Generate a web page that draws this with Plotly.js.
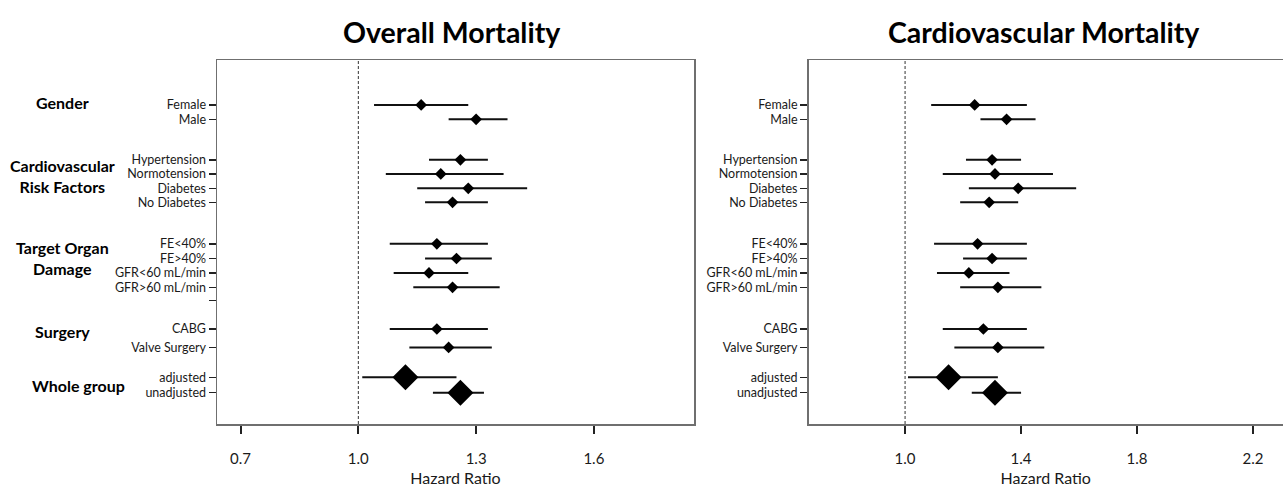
<!DOCTYPE html>
<html><head><meta charset="utf-8">
<script src="https://cdn.plot.ly/plotly-3.0.1.min.js"></script>
<style>html,body{margin:0;padding:0;background:#fff}</style>
</head><body><div id="chart" style="width:1283px;height:487px"></div>
<script>
// ---------- data ----------
const subgroups = ['Female','Male','Hypertension','Normotension','Diabetes','No Diabetes','FE<40%','FE>40%','GFR<60 mL/min','GFR>60 mL/min','CABG','Valve Surgery','adjusted','unadjusted'];
const groupNames = ['Gender','Cardiovascular<br>Risk Factors','Target Organ<br>Damage','Surgery','Whole group'];
const groupOf = [0,0,1,1,1,1,2,2,2,2,3,3,4,4];
const overallHR = [1.16,1.30,1.26,1.21,1.28,1.24,1.20,1.25,1.18,1.24,1.20,1.23,1.12,1.26];
const overallLo = [1.04,1.23,1.18,1.07,1.15,1.17,1.08,1.17,1.09,1.14,1.08,1.13,1.01,1.19];
const overallHi = [1.28,1.38,1.33,1.37,1.43,1.33,1.33,1.34,1.28,1.36,1.33,1.34,1.25,1.32];
const cvHR = [1.24,1.35,1.30,1.31,1.39,1.29,1.25,1.30,1.22,1.32,1.27,1.32,1.15,1.31];
const cvLo = [1.09,1.26,1.21,1.13,1.22,1.19,1.10,1.20,1.11,1.19,1.13,1.17,1.01,1.23];
const cvHi = [1.42,1.45,1.40,1.51,1.59,1.39,1.42,1.42,1.36,1.47,1.42,1.48,1.32,1.40];
const overallTicks = [0.7,1.0,1.3,1.6];
const cvTicks = [1.0,1.4,1.8,2.2];
const titles = ['Overall Mortality','Cardiovascular Mortality'];
const axisTitle = 'Hazard Ratio';

// ---------- layout helpers (row spacing, in row units) ----------
const rowGap = [0,1,2.82,0.98,1,0.97,2.89,1.02,1,1,2.9,1.28,2.08,1.07];
const rowPos = [];
rowGap.reduce((acc,g,i)=>{ rowPos[i]=acc+g; return acc+g; },0);
const blankTick = rowPos[9] + 0.93;   // extra unlabeled tick in left panel
const groupLabelPos = [-0.14, 4.93, 10.66, 15.74, 19.49];

const W = 1283, H = 487, MT = 60, MB = 62.5;
const PH = H - MT - MB;
const FONT = 'Lato, "Open Sans", sans-serif';
const TXT = '#1a1a1a';
const FRAME = '#6f6f6f';

function trace(hr, lo, hi, xa, ya){
  return {
    type:'scatter', mode:'markers', x:hr, y:rowPos, xaxis:xa, yaxis:ya,
    marker:{symbol:'diamond', color:'#000', opacity:1, size: groupOf.map(g=> g===4 ? 20 : 9), line:{width:0}},
    error_x:{type:'data', symmetric:false,
      array: hi.map((v,i)=>+(v-hr[i]).toFixed(3)),
      arrayminus: lo.map((v,i)=>+(hr[i]-v).toFixed(3)),
      color:'#111', thickness:2, width:0},
    hoverinfo:'skip', showlegend:false, cliponaxis:false
  };
}

const yRange = [(424.5-105)/14.4, (60-105)/14.4];
function yaxisDef(withBlank, anchor){
  const tv = rowPos.slice(), tt = subgroups.slice();
  if (withBlank){ tv.push(blankTick); tt.push(''); }
  return {
    anchor: anchor, range: yRange, tickmode:'array', tickvals: tv, ticktext: tt,
    ticks:'outside', ticklen:7, tickwidth:1.5, tickcolor:'#222',
    tickfont:{family:FONT, size:12.5, color:TXT},
    showline:true, mirror:true, linecolor:FRAME, linewidth:1.5,
    showgrid:false, zeroline:false, fixedrange:true
  };
}
function xaxisDef(domain, range, ticks, anchor){
  return {
    anchor: anchor, domain: domain, range: range, tickmode:'array',
    tickvals: ticks, ticktext: ticks.map(v=>v.toFixed(1)),
    ticks:'outside', ticklen:8, tickwidth:2, tickcolor:'#222',
    tickfont:{family:FONT, size:15, color:TXT}, ticklabelstandoff:12,
    showline:true, mirror:true, linecolor:FRAME, linewidth:1.5,
    showgrid:false, zeroline:false, fixedrange:true,
    title:{text:axisTitle, font:{family:FONT, size:16, color:TXT}, standoff:8}
  };
}

const annotations = [];
titles.forEach((t,k)=>{
  annotations.push({text:t, xref:'paper', yref:'paper', x: (k===0 ? 452 : 1044)/W, y: 1 + (MT-32)/PH,
    xanchor:'center', yanchor:'middle', showarrow:false,
    font:{family:FONT, size:28.5, weight:700, color:'#000'}});
});
groupNames.forEach((g,k)=>{
  annotations.push({text:g, xref:'paper', yref:'y', x: (k===4 ? 78 : 62)/W, y: groupLabelPos[k],
    xanchor:'center', yanchor:'middle', align:'center', showarrow:false,
    font:{family:FONT, size:16, weight:700, color:'#000'}});
});

const shapes = [['x','y'],['x2','y2']].map(([xa,ya])=>({
  type:'line', xref:xa, yref: ya+' domain', x0:1, x1:1, y0:0, y1:1,
  line:{color:'#333', width:1, dash:'3px,2px'}
}));

const layout = {
  width:W, height:H, margin:{l:0,r:0,t:MT,b:MB},
  paper_bgcolor:'#fff', plot_bgcolor:'#fff', showlegend:false,
  xaxis: xaxisDef([217/W, 694/W], [0.64, 1.855], overallTicks, 'y'),
  yaxis: yaxisDef(true, 'x'),
  xaxis2: xaxisDef([808.5/W, 1], [0.667, 0.667+(W-808.5)/290], cvTicks, 'y2'),
  yaxis2: yaxisDef(false, 'x2'),
  annotations, shapes
};

Plotly.newPlot('chart', [
  trace(overallHR, overallLo, overallHi, 'x', 'y'),
  trace(cvHR, cvLo, cvHi, 'x2', 'y2')
], layout, {staticPlot:true, displayModeBar:false});
</script>
</body></html>
